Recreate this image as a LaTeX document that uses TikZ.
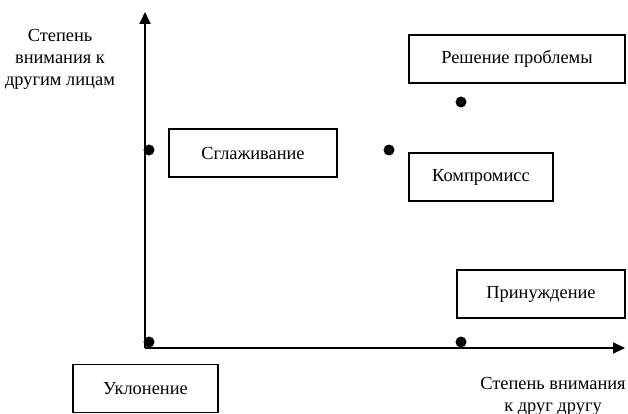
\documentclass[tikz,border=0pt]{standalone}
\usepackage{fontspec}
\setmainfont{Liberation Serif}
\usetikzlibrary{arrows.meta}
\begin{document}
\begin{tikzpicture}[x=1pt,y=-1pt,
  box/.style={draw,line width=1.6pt,minimum height=48pt,inner sep=0pt,font=\fontsize{18.4}{22}\selectfont},
  lbl/.style={align=center,font=\fontsize{18.4}{22}\selectfont,inner sep=0pt},
  dot/.style={circle,fill=black,minimum size=11pt,inner sep=0pt},
  axis/.style={line width=2pt,-{Triangle[length=12pt,width=11pt]}}]
\useasboundingbox (0,0) rectangle (628,414);
\coordinate (O) at (145,348);
\coordinate (Ytop) at (145,12);
\coordinate (Xend) at (625,348);
\draw[axis] (O) -- (Ytop);
\draw[axis] (O) -- (Xend);
\node[lbl] (ylab) at (60,59) {Степень\\внимания к\\другим лицам};
\node[lbl] (xlab) at (553,396) {Степень внимания\\к друг другу};
\node[box,minimum width=168pt] (sgl) at (253,153) {Сглаживание};
\node[box,minimum width=216pt] (resh) at (517,59) {Решение проблемы};
\node[box,minimum width=144pt] (komp) at (481,177) {Компромисс};
\node[box,minimum width=145pt] (ukl) at (145.5,388.5) {Уклонение};
\node[box,minimum width=168pt] (prin) at (541,294) {Принуждение};
\node[dot] (d1) at (149,150) {};
\node[dot] (d2) at (149,342) {};
\node[dot] (d3) at (461,342) {};
\node[dot] (d4) at (461,102) {};
\node[dot] (d5) at (389,150) {};
\end{tikzpicture}
\end{document}
